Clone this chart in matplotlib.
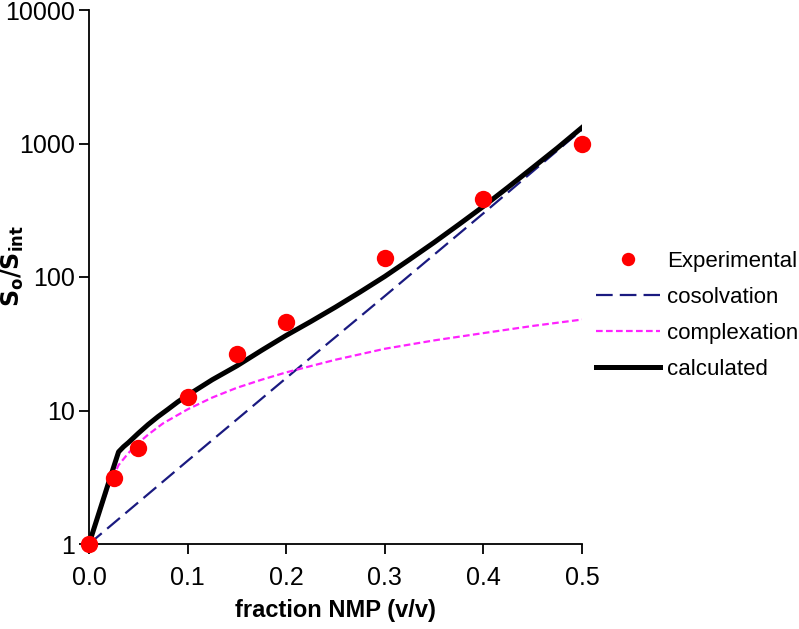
import matplotlib
matplotlib.use("Agg")
import matplotlib.pyplot as plt
from matplotlib.ticker import FixedLocator, NullLocator, FuncFormatter

plt.rcParams['font.family'] = ['Liberation Sans', 'DejaVu Sans']

# Experimental data
exp_x = [0.0, 0.025, 0.05, 0.1, 0.15, 0.2, 0.3, 0.4, 0.5]
exp_y = [1.0, 3.1, 5.2, 12.7, 26.5, 46.0, 138.0, 385.0, 1000.0]

# Cosolvation model (straight on log scale)
cos_x = [0.0, 0.1, 0.2, 0.3, 0.4, 0.5]
cos_y = [1.0, 4.2, 17.5, 72.0, 300.0, 1270.0]

# Complexation model
com_x = [0.0, 0.005, 0.01, 0.015, 0.02, 0.03, 0.04, 0.05, 0.06, 0.075, 0.1, 0.125, 0.15,
         0.175, 0.2, 0.25, 0.3, 0.35, 0.4, 0.45, 0.5]
com_y = [1.0, 1.3, 1.65, 2.1, 2.7, 3.9, 4.8, 5.7, 6.6, 8.0, 10.2, 12.5, 14.8,
         17.0, 19.3, 24.0, 29.0, 33.5, 38.0, 43.0, 48.0]

# Calculated model
cal_x = [0.0, 0.01, 0.02, 0.03, 0.035, 0.04, 0.05, 0.06, 0.07, 0.08, 0.09, 0.1, 0.125,
         0.15, 0.175, 0.2, 0.225, 0.25, 0.275, 0.3, 0.325, 0.35, 0.375, 0.4, 0.425,
         0.45, 0.475, 0.5]
cal_y = [1.0, 1.7, 2.9, 4.9, 5.35, 5.75, 6.75, 7.85, 9.0, 10.2, 11.6, 13.0, 17.0,
         21.6, 28.2, 36.5, 46.4, 59.5, 77.2, 101.0, 135.0, 181.5, 247.0, 338.0, 470.0,
         659.0, 925.0, 1318.0]

xticks = [0.0, 0.1, 0.2, 0.3, 0.4, 0.5]
yticks = [1, 10, 100, 1000, 10000]

fig = plt.figure(figsize=(7.99, 6.29), dpi=100)
ax = fig.add_axes([89/799, 1-544/629, (582-89)/799, (544-10)/629])

ax.plot(cos_x, cos_y, color='#1a1a80', lw=1.6, dashes=(7.5, 3.2), label='cosolvation', zorder=2)
ax.plot(com_x, com_y, color='#ff22ff', lw=1.6, dashes=(3.0, 1.5), label='complexation', zorder=2)
ax.plot(cal_x, cal_y, color='black', lw=3.6, label='calculated', zorder=3,
        solid_joinstyle='round')
ax.plot(exp_x, exp_y, 'o', color='#ff0000', ms=12.5, mec='none', label='Experimental',
        zorder=4, clip_on=False)

ax.set_yscale('log')
ax.set_xlim(0, 0.5)
ax.set_ylim(1, 10000)
ax.yaxis.set_major_locator(FixedLocator(yticks))
ax.yaxis.set_minor_locator(NullLocator())
ax.yaxis.set_major_formatter(FuncFormatter(lambda v, p: '%d' % v))
ax.set_xticks(xticks)
ax.set_xticklabels(['%.1f' % t for t in xticks])

for s in ['top', 'right']:
    ax.spines[s].set_visible(False)
for s in ['left', 'bottom']:
    ax.spines[s].set_linewidth(1.3)
ax.tick_params(axis='both', direction='out', length=7, width=1.3, labelsize=18, pad=3)
ax.tick_params(axis='x', pad=9)

ax.set_xlabel('fraction NMP (v/v)', fontsize=17, fontweight='bold', labelpad=6)
ax.set_ylabel(r'$\mathbf{S_o/S_{int}}$', fontsize=17)
ax.yaxis.set_label_coords((26 - 89) / 493, 0.52)

h, l = ax.get_legend_handles_labels()
order = [3, 0, 1, 2]
fig.legend([h[i] for i in order], [l[i] for i in order],
           loc='center left', bbox_to_anchor=(596/799, 1-315.5/629),
           frameon=False, fontsize=16, handlelength=2.9, handletextpad=0.3,
           labelspacing=0.68, borderpad=0, borderaxespad=0, markerscale=0.77)

fig.savefig('out.png', dpi=100)
